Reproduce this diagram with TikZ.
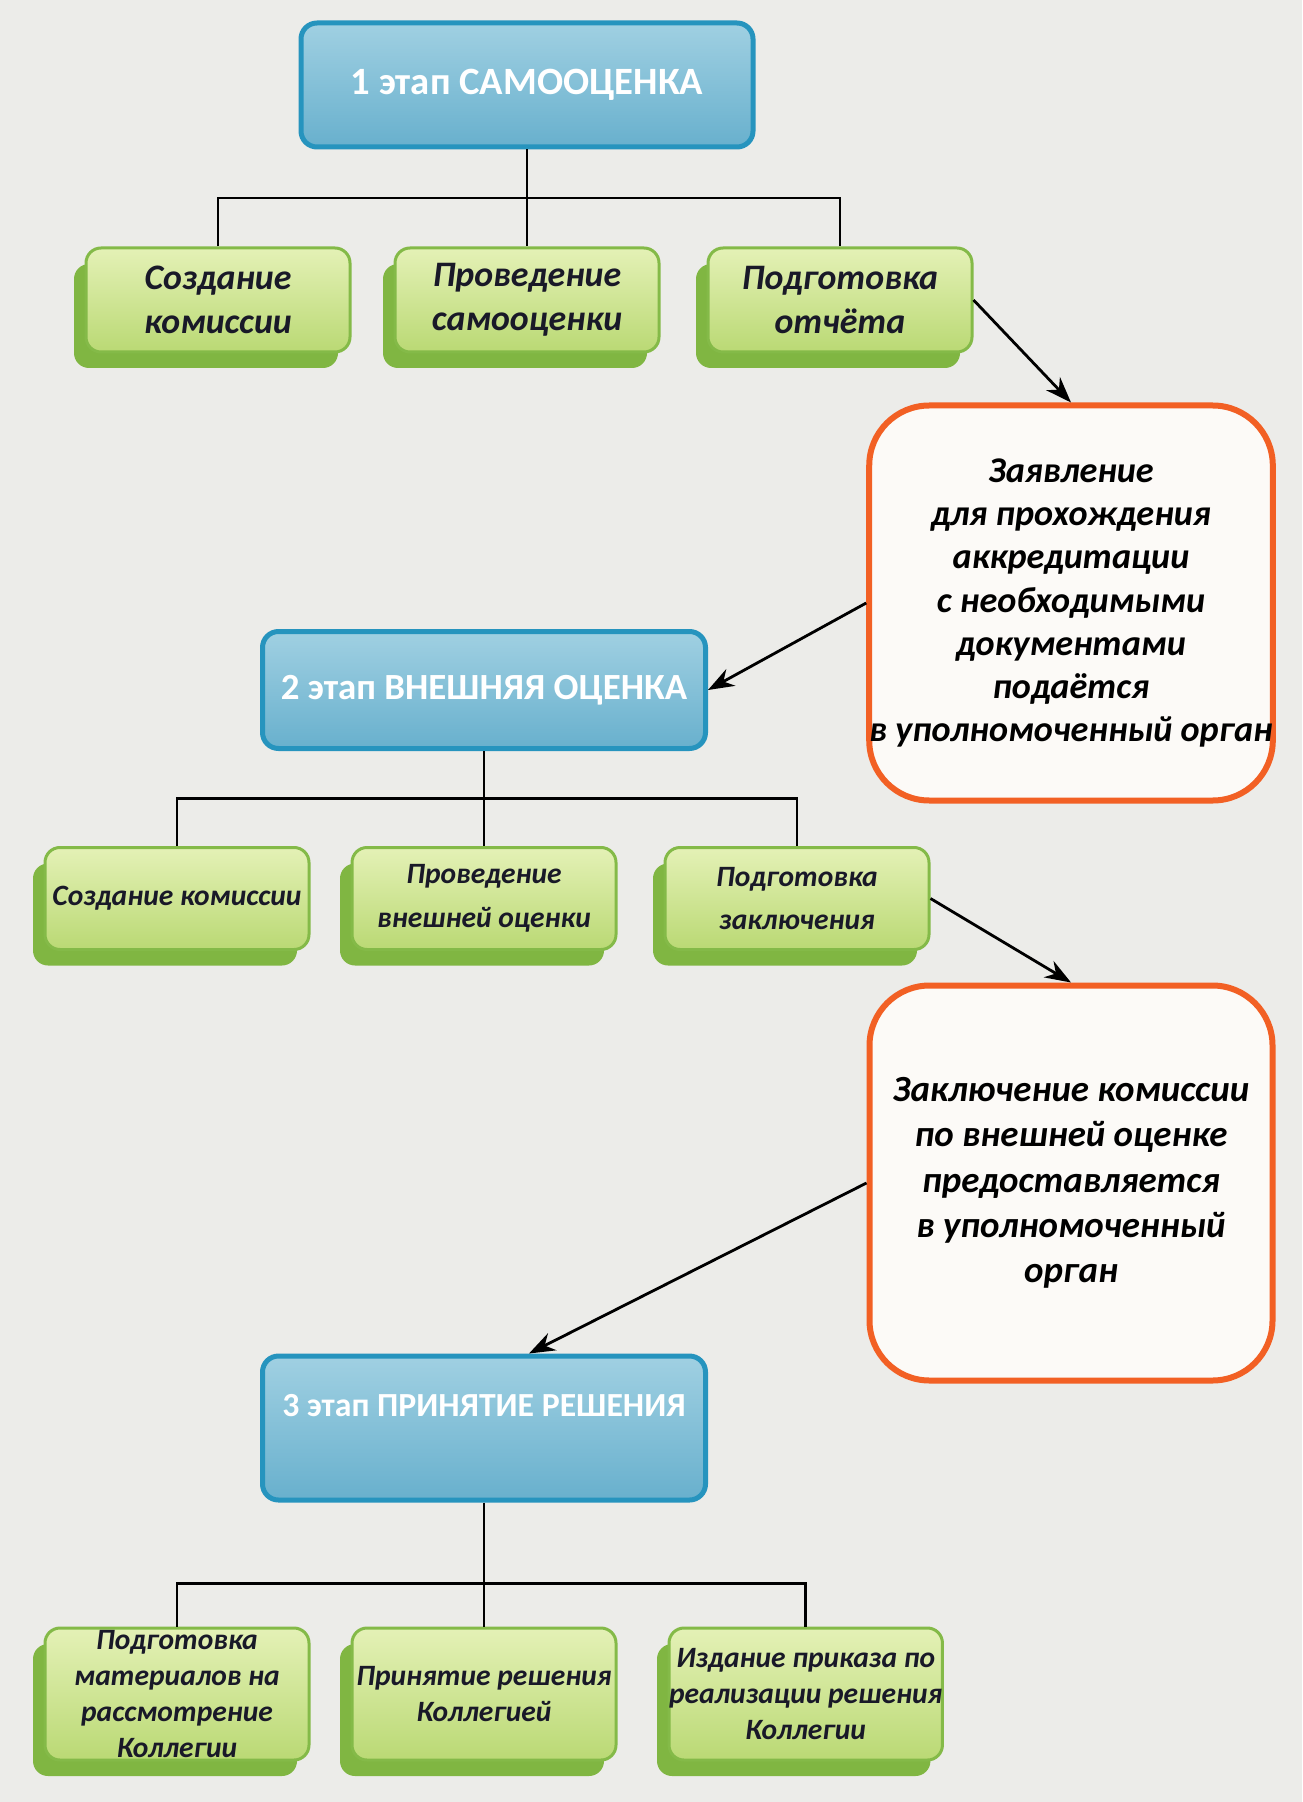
\documentclass[tikz,border=0pt]{standalone}
\usepackage{fontspec}
\setmainfont{Carlito}
\usetikzlibrary{arrows.meta, positioning, calc, shadows}

\definecolor{pagebg}{RGB}{236,236,233}
\definecolor{stagetop}{RGB}{160,208,226}
\definecolor{stagebot}{RGB}{104,176,205}
\definecolor{stageline}{RGB}{38,148,190}
\definecolor{subtop}{RGB}{228,241,182}
\definecolor{subbot}{RGB}{186,217,116}
\definecolor{subline}{RGB}{132,186,72}
\definecolor{subshade}{RGB}{128,182,66}
\definecolor{noteline}{RGB}{242,96,36}
\definecolor{notefill}{RGB}{252,250,247}
\definecolor{subtext}{RGB}{25,25,40}

\tikzstyle{stage} = [rectangle, rounded corners=1.6mm, draw=stageline, line width=0.5mm, top color=stagetop, bottom color=stagebot, text=white, font=\bfseries\fontsize{10.5}{12}\selectfont, minimum width=44.3mm, minimum height=11.7mm, inner sep=0pt]
\tikzstyle{sub} = [rectangle, rounded corners=1.5mm, draw=subline, line width=0.3mm, top color=subtop, bottom color=subbot, text=subtext, align=center, minimum width=26.4mm, minimum height=10.4mm, inner sep=0pt, font=\bfseries\itshape\fontsize{10.2}{12.5}\selectfont, drop shadow={shadow xshift=-1.2mm, shadow yshift=-1.6mm, fill=subshade, opacity=1}]
\tikzstyle{subsmall} = [sub, font=\bfseries\itshape\fontsize{8.4}{12.5}\selectfont]
\tikzstyle{subtiny} = [sub, font=\bfseries\itshape\fontsize{8.4}{10.2}\selectfont, minimum height=13.2mm]
\tikzstyle{note} = [rectangle, rounded corners=6mm, draw=noteline, line width=0.6mm, fill=notefill, text=black, align=center, font=\bfseries\itshape\fontsize{10.3}{12.3}\selectfont, minimum width=40.3mm, minimum height=39.5mm, inner sep=0pt]
\tikzstyle{link} = [line width=0.8pt, black]
\tikzstyle{flow} = [line width=0.8pt, -{Stealth[length=2.6mm, width=1.9mm]}, black]

\begin{document}
\begin{tikzpicture}

	% Page
	\path[use as bounding box, fill=pagebg] (0,0) rectangle (130.2mm,-180.2mm);

	% Stage 1
	\node (stage1) [stage, minimum width=45.2mm, minimum height=12.4mm, font=\bfseries\fontsize{11}{12}\selectfont] at (52.7mm,-8.5mm) {1 этап САМООЦЕНКА};
	\node (r1b) [sub, below=9.7mm of stage1] {Проведение\\самооценки};
	\node (r1a) [sub, left=4.2mm of r1b] {Создание\\комиссии};
	\node (r1c) [sub, right=4.6mm of r1b] {Подготовка\\отчёта};

	\node (note1) [note] at (107.1mm,-60.3mm) {Заявление\\для прохождения\\аккредитации\\с необходимыми\\документами\\подаётся\\в уполномоченный орган};

	% Stage 2
	\node (stage2) [stage] at (48.4mm,-69.0mm) {2 этап ВНЕШНЯЯ ОЦЕНКА};
	\node (r2b) [subsmall, below=9.5mm of stage2, minimum height=10.2mm] {Проведение\\внешней оценки};
	\node (r2a) [subsmall, left=4mm of r2b, minimum height=10.2mm] {Создание комиссии};
	\node (r2c) [subsmall, right=4.6mm of r2b, minimum height=10.2mm] {Подготовка\\заключения};

	\node (note2) [note, below=17.9mm of note1, font=\bfseries\itshape\fontsize{10.5}{12.9}\selectfont] {Заключение комиссии\\по внешней оценке\\предоставляется\\в уполномоченный\\орган};

	% Stage 3
	\node (stage3) [stage, minimum height=14.4mm, text height=3mm, text depth=5.4mm, font=\bfseries\fontsize{9.6}{12}\selectfont] at (48.4mm,-142.8mm) {3 этап ПРИНЯТИЕ РЕШЕНИЯ};
	\node (r3b) [subtiny, below=12.4mm of stage3] {Принятие решения\\Коллегией};
	\node (r3a) [subtiny, left=4mm of r3b] {Подготовка\\материалов на\\рассмотрение\\Коллегии};
	\node (r3c) [subtiny, right=5mm of r3b] {Издание приказа по\\реализации решения\\Коллегии};

	% Tree lines
	\coordinate (bar1) at ($(stage1.south)!0.5!(r1b.north)$);
	\coordinate (bar2) at ($(stage2.south)!0.5!(r2b.north)$);
	\coordinate (bar3) at ($(stage3.south)!0.65!(r3b.north)$);
	\draw[link] (stage1) -- (r1b);
	\draw[link] (r1a.north) |- (bar1) -| (r1c.north);
	\draw[link] (stage2) -- (r2b);
	\draw[link] (r2a.north) |- (bar2) -| (r2c.north);
	\draw[link] (stage3) -- (r3b);
	\draw[link] (r3a.north) |- (bar3) -| (r3c.north);

	% Arrows
	\draw[flow] (r1c.east) -- (note1.north);
	\draw[flow] (note1.west) -- (stage2.east);
	\draw[flow] (r2c.east) -- (note2.north);
	\draw[flow] (note2.west) -- ([xshift=4.5mm]stage3.north);

\end{tikzpicture}
\end{document}
